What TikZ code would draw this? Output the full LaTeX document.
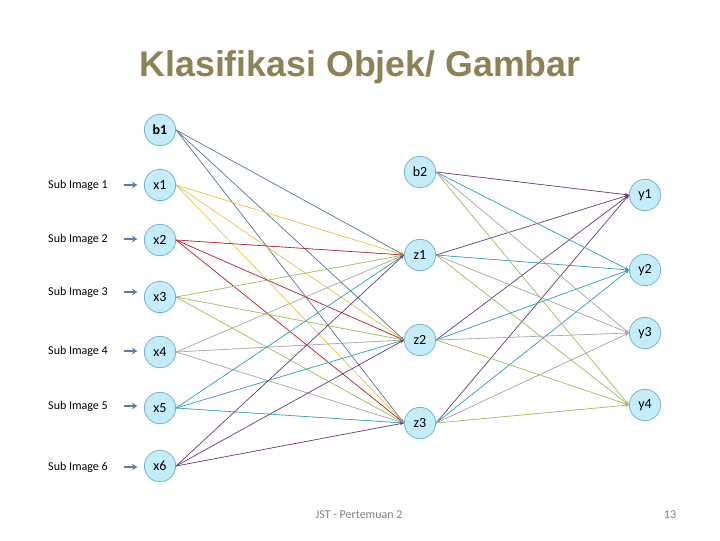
\documentclass[tikz,border=0pt]{standalone}
\usepackage{fontspec}
\setmainfont{Carlito}
\newfontfamily\titlefont{Liberation Sans}
\usetikzlibrary{arrows.meta,calc,positioning}
\definecolor{nnTitle}{HTML}{8C8256}
\definecolor{nnFill}{HTML}{C4ECF9}
\definecolor{nnRim}{HTML}{78B6CB}
\definecolor{nnFeed}{HTML}{5A7DA3}
\definecolor{nnFoot}{HTML}{808080}
\definecolor{nnSlate}{HTML}{56779A}
\definecolor{nnGold}{HTML}{E8C547}
\definecolor{nnRed}{HTML}{B3222C}
\definecolor{nnLime}{HTML}{9FBE5C}
\definecolor{nnGray}{HTML}{A6A6A6}
\definecolor{nnTeal}{HTML}{2F9FB7}
\definecolor{nnPlum}{HTML}{6A3D78}
\tikzset{
 net/.style={line cap=round,line join=round},
 unit/.style={circle,draw=nnRim,fill=nnFill,line width=.6pt,inner sep=0pt,minimum size=23.5pt,
   font=\fontsize{10.5}{11}\selectfont},
 wire/.style={line width=.5pt,-{Stealth[length=3pt,width=2.4pt]}},
 feed/.style={draw=nnFeed,line width=1.3pt,-{Stealth[length=4pt,width=5pt]},shorten <=9pt,shorten >=5pt},
 sublabel/.style={font=\fontsize{9}{10}\selectfont},
 pagetitle/.style={font=\titlefont\bfseries\fontsize{26.8}{30}\selectfont,text=nnTitle},
 footer/.style={font=\fontsize{9}{10}\selectfont,text=nnFoot}
}
\begin{document}
\begin{tikzpicture}[net,x=.75pt,y=-.75pt]
 \useasboundingbox (0,0) rectangle (720,540);
 \node[pagetitle] (title) at (360,67) {Klasifikasi Objek/ Gambar};
 % input layer
 \node[unit] (b1) at (160,130) {\textbf{b1}};
 \node[unit] (x1) at (160,185) {x1};
 \node[unit] (x2) at (160,240) {x2};
 \node[unit] (x3) at (160,297) {x3};
 \node[unit] (x4) at (160,352) {x4};
 \node[unit] (x5) at (160,408) {x5};
 \node[unit] (x6) at (160,466) {x6};
 % hidden layer
 \node[unit] (b2) at (420,172) {b2};
 \node[unit] (z1) at (420,255) {z1};
 \node[unit] (z2) at (420,340) {z2};
 \node[unit] (z3) at (420,423) {z3};
 % output layer
 \node[unit] (y1) at (645,195) {y1};
 \node[unit] (y2) at (645,270) {y2};
 \node[unit] (y3) at (645,333) {y3};
 \node[unit] (y4) at (645,405) {y4};
 % sub images
 \node[sublabel] (s1) at (78,185) {Sub Image 1};
 \node[sublabel] (s2) at (78,239) {Sub Image 2};
 \node[sublabel] (s3) at (78,292) {Sub Image 3};
 \node[sublabel] (s4) at (78,351) {Sub Image 4};
 \node[sublabel] (s5) at (78,406) {Sub Image 5};
 \node[sublabel] (s6) at (78,467) {Sub Image 6};
 \foreach \i in {1,...,6}{\draw[feed] (s\i.east) -- (s\i.east -| x\i.west);}
 % weights
 \foreach \n/\c in {b1/nnSlate,x1/nnGold,x2/nnRed,x3/nnLime,x4/nnGray,x5/nnTeal,x6/nnPlum}{
  \foreach \h in {z1,z2,z3}{\draw[wire,draw=\c,fill=\c] (\n.east) -- (\h.west);}}
 \foreach \o/\c in {y1/nnPlum,y2/nnTeal,y3/nnGray,y4/nnLime}{
  \foreach \h in {b2,z1,z2,z3}{\draw[wire,draw=\c,fill=\c] (\h.east) -- (\o.west);}}
 \node[footer] (foot) at (359,515) {JST - Pertemuan 2};
 \node[footer] (page) at (670,515) {13};
\end{tikzpicture}
\end{document}
